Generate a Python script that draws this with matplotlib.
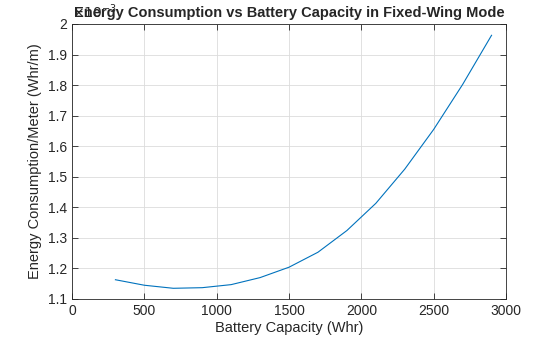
import numpy as np
import matplotlib
matplotlib.use('Agg')
import matplotlib.pyplot as plt
from matplotlib.ticker import FuncFormatter

plt.rcParams['font.family'] = ['Liberation Sans', 'DejaVu Sans']

# battery capacity (Whr) and energy use per metre (Whr/m)
capacity = [300, 500, 700, 900, 1100, 1300, 1500, 1700, 1900, 2100, 2300, 2500, 2700, 2900]
energy = [1.163e-3, 1.145e-3, 1.135e-3, 1.137e-3, 1.147e-3, 1.170e-3, 1.204e-3,
          1.253e-3, 1.324e-3, 1.413e-3, 1.525e-3, 1.655e-3, 1.802e-3, 1.963e-3]

fig = plt.figure(figsize=(5.6, 3.37), dpi=100)
ax = fig.add_axes([0.1286, 0.1128, 0.775, 0.816])

ax.plot(capacity, energy, color='#0072BD', linewidth=0.8)

ax.set_xlim(0, 3000)
ax.set_ylim(1.1e-3, 2.0e-3)
ax.set_xticks(np.arange(0, 3001, 500))
ax.set_yticks(np.arange(1.1e-3, 2.0001e-3, 0.1e-3))

# matlab style: scaled labels without trailing zeros, exponent drawn separately
ax.yaxis.set_major_formatter(FuncFormatter(lambda v, p: '%g' % round(v * 1e3, 3)))
ax.text(0.0, 1.01, r'$\times10^{-3}$', transform=ax.transAxes, fontsize=10,
        color='#262626', ha='left', va='bottom', zorder=1)

ax.grid(True, color='#dcdcdc', linewidth=0.6)
ax.set_axisbelow(True)
ax.tick_params(direction='in', length=4, width=0.6, top=True, right=True,
               labelsize=10, colors='#262626')
for s in ax.spines.values():
    s.set_color('#262626')
    s.set_linewidth(0.6)

ax.set_xlabel('Battery Capacity (Whr)', fontsize=10.5, color='#262626', labelpad=2)
ax.set_ylabel('Energy Consumption/Meter (Whr/m)', fontsize=10.5, color='#262626', labelpad=4)
ax.set_title('Energy Consumption vs Battery Capacity in Fixed-Wing Mode',
             fontsize=10.5, fontweight='bold', color='#262626', y=1.0, pad=5, zorder=5)

fig.savefig('out.png', dpi=100)
